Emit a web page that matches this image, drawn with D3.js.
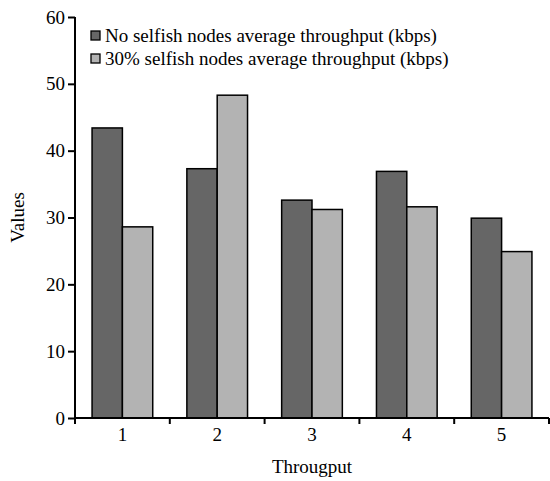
<!DOCTYPE html>
<html>
<head>
<script src="https://d3js.org/d3.v7.min.js"></script>
<style>
body { margin: 0; background: #fff; }
text { font-family: "Liberation Serif", "Times New Roman", serif; }
</style>
</head>
<body>
<svg width="550" height="481"></svg>
<script>
var categories = ["1", "2", "3", "4", "5"];
var seriesNames = ["No selfish nodes average throughput (kbps)", "30% selfish nodes average throughput (kbps)"];
var noSelfish = [43.4, 37.3, 32.6, 36.9, 29.9];
var selfish30 = [28.6, 48.3, 31.2, 31.6, 24.9];
var yTicks = [0, 10, 20, 30, 40, 50, 60];
var colors = ["#666666", "#b3b3b3"];

var svg = d3.select("svg");
var mLeft = 75, mRight = 549, mTop = 17, mBottom = 418;
var fs = 19;

var x = d3.scaleBand().domain(categories).range([mLeft, mRight]);
var y = d3.scaleLinear().domain([0, 60]).range([mBottom, mTop]);
var barW = x.bandwidth() * 0.32;

var series = [noSelfish, selfish30];

series.forEach(function(vals, s) {
    svg.append("g").selectAll("rect")
        .data(vals)
        .join("rect")
        .attr("x", (d, i) => x(categories[i]) + x.bandwidth() / 2 - barW + s * barW)
        .attr("y", d => y(d))
        .attr("width", barW)
        .attr("height", d => y(0) - y(d))
        .attr("fill", colors[s])
        .attr("stroke", "#000")
        .attr("stroke-width", 1.5);
});

// y axis
var ya = svg.append("g").attr("transform", "translate(" + mLeft + ",0)")
    .call(d3.axisLeft(y).tickValues(yTicks).tickSize(7).tickPadding(3));
ya.select(".domain").attr("stroke-width", 2).attr("d", "M0," + mTop + "V" + mBottom);
ya.selectAll(".tick line").attr("stroke-width", 2);
ya.selectAll("text").attr("font-size", fs).attr("fill", "#000")
    .style("font-family", "'Liberation Serif', serif");

// x axis
var xa = svg.append("g").attr("transform", "translate(0," + mBottom + ")")
    .call(d3.axisBottom(x).tickSize(0).tickPadding(10));
xa.select(".domain").attr("stroke-width", 2).attr("d", "M" + mLeft + ",0H" + mRight);
xa.selectAll("text").attr("font-size", fs).attr("fill", "#000")
    .style("font-family", "'Liberation Serif', serif");
// tick marks at band boundaries
var bounds = categories.map(c => x(c)).concat([mRight]);
svg.append("g").selectAll("line")
    .data(bounds)
    .join("line")
    .attr("x1", d => d).attr("x2", d => d)
    .attr("y1", mBottom).attr("y2", mBottom + 6)
    .attr("stroke", "#000").attr("stroke-width", 2);

// axis titles
svg.append("text")
    .attr("x", (mLeft + mRight) / 2).attr("y", 473)
    .attr("text-anchor", "middle").attr("font-size", fs)
    .text("Througput");
svg.append("text")
    .attr("transform", "translate(24," + ((mTop + mBottom) / 2) + ") rotate(-90)")
    .attr("text-anchor", "middle").attr("font-size", fs)
    .text("Values");

// legend
var lg = svg.append("g").selectAll("g")
    .data(seriesNames)
    .join("g")
    .attr("transform", (d, i) => "translate(91," + (31 + i * 23) + ")");
lg.append("rect")
    .attr("width", 9).attr("height", 9)
    .attr("fill", (d, i) => colors[i])
    .attr("stroke", "#000").attr("stroke-width", 1.3);
lg.append("text")
    .attr("x", 14).attr("y", 11)
    .attr("font-size", fs)
    .text(d => d);
</script>
</body>
</html>
